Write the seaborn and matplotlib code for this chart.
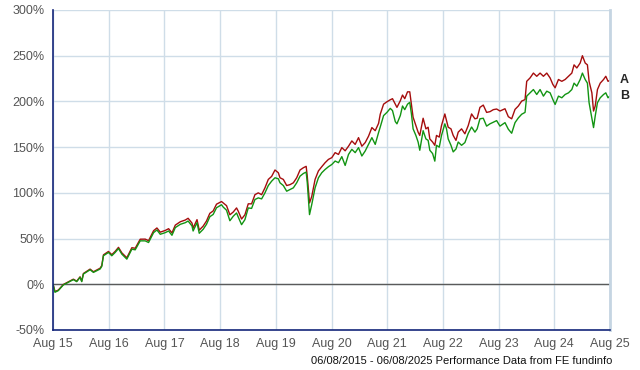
import numpy as np
import pandas as pd
import matplotlib

matplotlib.use("Agg")
import matplotlib.pyplot as plt
import matplotlib.dates as mdates
from matplotlib.ticker import FuncFormatter
import seaborn as sns

# Datas em anos decimais (06/08/2015 - 06/08/2025)
years = [
    2015.595, 2015.63, 2015.69, 2015.78, 2015.87, 2015.96, 2016.02, 2016.08, 2016.11, 2016.14,
    2016.26, 2016.32, 2016.38, 2016.44, 2016.47, 2016.50, 2016.59, 2016.65, 2016.71, 2016.77,
    2016.83, 2016.92, 2017.01, 2017.07, 2017.16, 2017.25, 2017.31, 2017.40, 2017.46, 2017.52,
    2017.61, 2017.67, 2017.73, 2017.79, 2017.88, 2017.97, 2018.02, 2018.09, 2018.11, 2018.18,
    2018.22, 2018.29, 2018.35, 2018.41, 2018.47, 2018.53, 2018.62, 2018.65, 2018.71, 2018.77,
    2018.83, 2018.89, 2018.92, 2018.98, 2019.04, 2019.10, 2019.16, 2019.22, 2019.28, 2019.34,
    2019.40, 2019.46, 2019.52, 2019.58, 2019.64, 2019.67, 2019.73, 2019.79, 2019.85, 2019.91,
    2019.97, 2020.03, 2020.09, 2020.14, 2020.16, 2020.20, 2020.24, 2020.30, 2020.36, 2020.42,
    2020.48, 2020.54, 2020.60, 2020.66, 2020.72, 2020.78, 2020.84, 2020.90, 2020.96, 2021.02,
    2021.08, 2021.14, 2021.20, 2021.26, 2021.32, 2021.38, 2021.44, 2021.47, 2021.53, 2021.59,
    2021.65, 2021.69, 2021.74, 2021.77, 2021.83, 2021.87, 2021.91, 2021.96, 2022.00, 2022.03,
    2022.06, 2022.11, 2022.15, 2022.18, 2022.24, 2022.29, 2022.33, 2022.36, 2022.41, 2022.45,
    2022.48, 2022.53, 2022.57, 2022.63, 2022.66, 2022.69, 2022.74, 2022.78, 2022.83, 2022.87,
    2022.93, 2022.99, 2023.05, 2023.11, 2023.17, 2023.21, 2023.26, 2023.32, 2023.38, 2023.44,
    2023.50, 2023.56, 2023.62, 2023.71, 2023.77, 2023.83, 2023.89, 2023.95, 2024.01, 2024.07,
    2024.10, 2024.16, 2024.22, 2024.28, 2024.34, 2024.40, 2024.46, 2024.52, 2024.57, 2024.61,
    2024.67, 2024.73, 2024.79, 2024.85, 2024.91, 2024.95, 2025.00, 2025.06, 2025.10, 2025.15,
    2025.19, 2025.22, 2025.27, 2025.30, 2025.33, 2025.37, 2025.42, 2025.48, 2025.52, 2025.56,
    2025.595,
]

# Fundo A (vermelho) - performance acumulada em %
fund_a = [
    0, -8.0, -6.3, -0.2, 2.7, 5.6, 3.4, 8.2, 3.5, 11.8,
    16.6, 13.7, 15.7, 17.6, 20.5, 32.2, 35.9, 32.4, 36.0, 40.4,
    34.4, 29.0, 40.0, 39.4, 49.3, 49.4, 47.7, 58.6, 61.6, 57.0,
    58.9, 60.8, 56.2, 64.7, 68.4, 70.3, 72.2, 66.9, 61.5, 70.7,
    59.2, 63.6, 69.2, 77.6, 80.2, 87.6, 90.5, 89.0, 86.0, 76.0,
    79.0, 83.5, 80.0, 71.4, 76.0, 88.0, 88.0, 98.0, 100.0, 98.0,
    105.5, 114.7, 118.0, 125.0, 122.0, 116.5, 114.7, 108.0, 109.0, 111.0,
    116.5, 125.0, 127.5, 129.0, 118.0, 89.0, 96.0, 114.7, 124.0, 128.6,
    133.0, 136.6, 138.5, 144.0, 142.0, 149.5, 146.0, 151.0, 156.8, 153.0,
    160.4, 151.0, 155.0, 162.0, 171.4, 168.0, 176.0, 186.0, 197.0, 199.6,
    201.8, 203.0, 197.0, 193.5, 200.7, 207.0, 203.0, 210.5, 210.5, 197.0,
    182.7, 173.6, 166.4, 162.8, 181.6, 170.0, 171.8, 159.0, 155.6, 152.0,
    162.8, 161.0, 173.6, 186.3, 179.0, 171.8, 170.0, 162.8, 157.4, 166.4,
    170.0, 164.6, 173.6, 186.3, 181.0, 181.6, 193.5, 196.0, 188.0, 188.8,
    191.0, 191.7, 189.5, 192.0, 183.3, 181.0, 191.3, 195.0, 200.4, 202.0,
    222.0, 225.7, 231.0, 227.5, 231.0, 227.5, 231.0, 225.7, 218.5, 214.9,
    224.0, 222.0, 224.0, 227.5, 231.0, 240.0, 236.6, 242.0, 250.0, 242.0,
    240.0, 222.0, 209.4, 189.5, 195.0, 213.0, 220.0, 224.0, 227.5, 222.0,
    223.0,
]

# Fundo B (verde) - performance acumulada em %
fund_b = [
    0, -8.7, -6.9, -0.7, 2.2, 5.1, 2.9, 7.6, 2.9, 11.2,
    15.9, 13.0, 14.9, 16.7, 19.6, 31.2, 34.8, 31.2, 34.8, 39.1,
    33.0, 27.5, 38.4, 37.7, 47.5, 47.5, 45.7, 56.5, 59.4, 54.7,
    56.5, 58.3, 53.6, 62.0, 65.6, 67.4, 69.2, 63.8, 58.3, 67.4,
    55.8, 60.1, 65.6, 73.9, 76.4, 83.7, 87.0, 84.5, 81.0, 69.5,
    74.4, 78.0, 73.6, 65.2, 70.7, 83.5, 83.0, 92.7, 94.5, 93.4,
    100.0, 108.0, 112.8, 116.5, 115.4, 111.0, 108.0, 101.8, 103.7, 105.5,
    111.0, 118.3, 121.2, 122.7, 111.0, 76.2, 87.2, 105.5, 116.5, 122.0,
    125.6, 128.6, 131.0, 134.8, 133.0, 139.6, 130.0, 142.0, 147.6, 144.0,
    149.5, 140.3, 145.8, 153.0, 160.4, 153.0, 166.0, 172.0, 184.5, 188.0,
    192.4, 190.0, 178.0, 175.5, 184.5, 195.0, 191.0, 197.0, 199.0, 186.3,
    170.0, 162.8, 155.6, 146.6, 168.0, 159.0, 157.4, 146.6, 143.0, 134.7,
    152.0, 150.0, 162.8, 175.5, 170.0, 159.0, 152.0, 144.8, 148.0, 155.6,
    152.0, 155.0, 165.0, 172.0, 166.4, 170.0, 181.0, 181.6, 173.0, 175.5,
    177.3, 179.0, 173.0, 176.8, 169.6, 165.2, 176.8, 182.0, 186.0, 188.0,
    205.8, 209.4, 213.0, 207.6, 213.0, 205.8, 211.2, 209.4, 202.0, 196.7,
    205.8, 204.0, 207.6, 209.4, 213.0, 220.0, 216.7, 224.0, 231.0, 224.0,
    220.0, 198.6, 182.0, 171.4, 184.0, 198.6, 204.0, 207.6, 209.4, 204.0,
    206.0,
]

x_labels = ["Aug 15", "Aug 16", "Aug 17", "Aug 18", "Aug 19", "Aug 20",
            "Aug 21", "Aug 22", "Aug 23", "Aug 24", "Aug 25"]
y_ticks = [-50, 0, 50, 100, 150, 200, 250, 300]
footer = "06/08/2015 - 06/08/2025 Performance Data from FE fundinfo"

# Converter anos decimais em datas
start = pd.Timestamp("2015-01-01")
dates = start + pd.to_timedelta((np.array(years) - 2015) * 365.25, unit="D")
df = pd.DataFrame({"data": dates, "A": fund_a, "B": fund_b})

sns.set_style("white")
plt.rcParams["font.family"] = ["Liberation Sans", "DejaVu Sans"]

fig = plt.figure(figsize=(6.4, 3.7), dpi=100)
ax = fig.add_axes([53 / 640, 40 / 370, 557 / 640, 320 / 370])

grid_color = "#cfdde8"
sns.lineplot(x="data", y="A", data=df, ax=ax, color="#a50d0d", linewidth=1.0)
sns.lineplot(x="data", y="B", data=df, ax=ax, color="#129412", linewidth=1.0)

# Eixos
tick_dates = pd.date_range("2015-08-06", periods=11, freq=pd.DateOffset(years=1))
ax.set_xlim(tick_dates[0], tick_dates[-1])
ax.set_xticks(tick_dates)
ax.set_xticklabels(x_labels)
ax.set_ylim(-50, 300)
ax.set_yticks(y_ticks)
ax.yaxis.set_major_formatter(FuncFormatter(lambda v, p: f"{int(v)}%"))
ax.grid(True, color=grid_color, linewidth=1.0)
ax.set_axisbelow(True)
ax.axhline(0, color="#5a5a5a", linewidth=1.0, zorder=1)
ax.tick_params(axis="both", length=0, labelsize=9, labelcolor="#555555", pad=6)
ax.set_xlabel("")
ax.set_ylabel("")

ax.spines["top"].set_visible(False)
ax.spines["right"].set_color("#c5d5e2")
ax.spines["right"].set_linewidth(2)
for side in ["left", "bottom"]:
    ax.spines[side].set_color("#14267a")
    ax.spines[side].set_linewidth(1.2)

# Rótulos A e B no fim das linhas
trans = ax.get_yaxis_transform()
ax.text(1.018, fund_a[-1], "A", transform=trans, fontsize=9, fontweight="bold",
        va="center", ha="left", clip_on=False)
ax.text(1.018, fund_b[-1], "B", transform=trans, fontsize=9, fontweight="bold",
        va="center", ha="left", clip_on=False)

fig.text(612 / 640, 9 / 370, footer, ha="right", va="center", fontsize=8, color="#111111")

plt.savefig("out.png", dpi=100)
